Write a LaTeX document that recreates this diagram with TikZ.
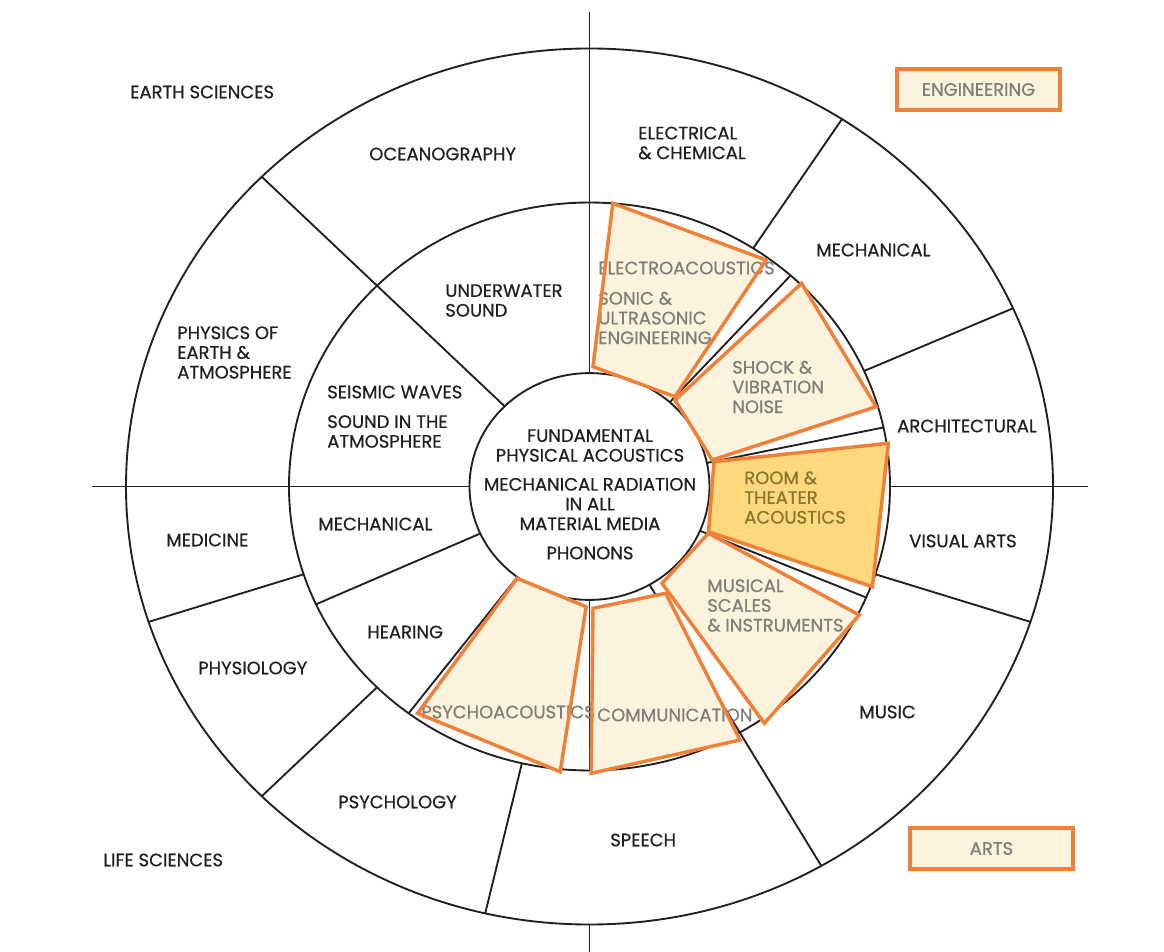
\documentclass[tikz,border=0pt]{standalone}
\usepackage{fontspec}
\setmainfont{Poppins}[FakeBold=0.6]
\usepackage{tikz}

\begin{document}
\begin{tikzpicture}[x=0.75pt,y=0.75pt,yscale=-1,xscale=1,
  ringline/.style={draw={rgb, 255:red, 35; green, 31; blue, 32 }, line width=1.4pt},
  hlfill/.style={fill={rgb, 255:red, 252; green, 243; blue, 222 }},
  hlgold/.style={fill={rgb, 255:red, 253; green, 216; blue, 125 }},
  hlline/.style={draw={rgb, 255:red, 240; green, 128; blue, 56 }, line width=2.6pt, line join=miter},
  lbl/.style={anchor=west, inner sep=0.75pt, align=left, font=\fontsize{13.5}{14.8}\selectfont, text={rgb, 255:red, 35; green, 31; blue, 32 }},
  glbl/.style={lbl, text={rgb, 255:red, 128; green, 126; blue, 118 }},
  olbl/.style={lbl, text={rgb, 255:red, 135; green, 118; blue, 45 }},
  clbl/.style={lbl, anchor=center, align=center},
  legbox/.style={hlfill, hlline, inner sep=0pt, minimum width=122pt, minimum height=30.5pt, font=\fontsize{13.5}{14.8}\selectfont, text={rgb, 255:red, 128; green, 126; blue, 118 }}]
\useasboundingbox (0,0) rectangle (1164,952);

%Shape: Rings and radial lines
\begin{scope}[shift={(589.5,486.5)}, yscale=-0.945]
\draw [ringline] (0,0) circle [radius=463.5];
\draw [ringline] (0,0) circle [radius=300.5];
%Straight Lines (axes)
\draw [ringline] (0,502) -- (90:120);
\draw [ringline] (270:120) -- (270:300.5);
\draw [ringline] (270:463.5) -- (0,-493);
\draw [ringline] (-497.5,0) -- (180:120);
\draw [ringline] (0:300.5) -- (498.5,0);
%Straight Lines (outer ring)
\draw [ringline] (135:120) -- (135:463.5);
\draw [ringline] (300:120) -- (300:463.5);
\draw [ringline] (198:300.5) -- (198:463.5);
\draw [ringline] (225:300.5) -- (225:463.5);
\draw [ringline] (257:300.5) -- (257:463.5);
\draw [ringline] (342:300.5) -- (342:463.5);
\draw [ringline] (24:300.5) -- (24:463.5);
\draw [ringline] (57:300.5) -- (57:463.5);
%Straight Lines (middle ring)
\draw [ringline] (204.5:120) -- (204.5:300.5);
\draw [ringline] (233:120) -- (233:300.5);
\draw [ringline] (337:120) -- (337:300.5);
\draw [ringline] (12:120) -- (12:300.5);
\draw [ringline] (48:120) -- (48:300.5);
%Shape: Circle (core)
\draw [ringline, fill=white] (0,0) circle [radius=120];
\end{scope}

%Shape: Highlighted fields
\coordinate (ea1) at (612.8,203.3); \coordinate (ea2) at (766.2,260);
\coordinate (ea3) at (675,396.7);   \coordinate (ea4) at (593,366.7);
\coordinate (sv1) at (801.6,283.3); \coordinate (sv2) at (876.1,406.7);
\coordinate (sv3) at (712.2,460);   \coordinate (sv4) at (675,400);
\coordinate (rt1) at (888.4,443.3); \coordinate (rt2) at (872.4,586.7);
\coordinate (rt3) at (708.5,531.7); \coordinate (rt4) at (714,461.7);
\coordinate (ms1) at (708.5,533.3); \coordinate (ms2) at (859.3,615);
\coordinate (ms3) at (764.4,723.3); \coordinate (ms4) at (662,583.3);
\coordinate (cm1) at (665.7,593.3); \coordinate (cm2) at (740.1,740);
\coordinate (cm3) at (591.2,773.3); \coordinate (cm4) at (593,608.3);
\coordinate (pa1) at (517.2,578.3); \coordinate (pa2) at (586.2,606.7);
\coordinate (pa3) at (560.2,771.7); \coordinate (pa4) at (417.6,713.3);

\fill [hlfill] (ea1) -- (ea2) -- (ea3) -- (ea4) -- cycle;
\fill [hlfill] (sv1) -- (sv2) -- (sv3) -- (sv4) -- cycle;
\fill [hlgold] (rt1) -- (rt2) -- (rt3) -- (rt4) -- cycle;
\fill [hlfill] (ms1) -- (ms2) -- (ms3) -- (ms4) -- cycle;
\fill [hlfill] (cm1) -- (cm2) -- (cm3) -- (cm4) -- cycle;
\fill [hlfill] (pa1) -- (pa2) -- (pa3) -- (pa4) -- cycle;

% Text Node
\node (earth) [lbl] at (129,92) {EARTH SCIENCES};
\node (ocean) [lbl] at (368,154) {OCEANOGRAPHY};
\node (elchem) [lbl] at (637,143) {ELECTRICAL\\\& CHEMICAL};
\node (mechout) [lbl] at (815,250) {MECHANICAL};
\node (under) [lbl] at (444,300.5) {UNDERWATER\\SOUND};
\node (electro) [glbl] at (597,268) {ELECTROACOUSTICS};
\node (sonic) [glbl] at (597,318) {SONIC \&\\ULTRASONIC\\ENGINEERING};
\node (physics) [lbl] at (176,352.5) {PHYSICS OF\\EARTH \&\\ATMOSPHERE};
\node (shock) [glbl] at (731,387) {SHOCK \&\\VIBRATION\\NOISE};
\node (seismic) [lbl] at (326,392) {SEISMIC WAVES};
\node (soundatm) [lbl] at (326,431.5) {SOUND IN THE\\ATMOSPHERE};
\node (arch) [lbl] at (896,426) {ARCHITECTURAL};
\node (fund) [clbl] at (590,445.5) {FUNDAMENTAL\\PHYSICAL ACOUSTICS};
\node (mechrad) [clbl] at (590,504) {MECHANICAL RADIATION\\IN ALL\\MATERIAL MEDIA};
\node (phonons) [clbl] at (590,553) {PHONONS};
\node (room) [olbl] at (743,497.5) {ROOM \&\\THEATER\\ACOUSTICS};
\node (visual) [lbl] at (908,541) {VISUAL ARTS};
\node (medicine) [lbl] at (165,540) {MEDICINE};
\node (mechmid) [lbl] at (317,524) {MECHANICAL};
\node (musical) [glbl] at (706,605.5) {MUSICAL\\SCALES\\\& INSTRUMENTS};
\node (hearing) [lbl] at (366,632) {HEARING};
\node (physio) [lbl] at (197,668) {PHYSIOLOGY};
\node (psychoac) [glbl] at (420,712) {PSYCHOACOUSTICS};
\node (comm) [glbl] at (596,715) {COMMUNICATION};
\node (music) [lbl] at (858,712) {MUSIC};
\node (psychol) [lbl] at (337,802) {PSYCHOLOGY};
\node (speech) [lbl] at (609,840) {SPEECH};
\node (life) [lbl] at (102,860) {LIFE SCIENCES};

%Shape: Legend boxes
\node (engbox) [legbox] at (978.5,89.5) {ENGINEERING\hspace{8pt}};
\node (artsbox) [legbox] at (991.5,848.5) {ARTS\hspace{16pt}};

%Shape: Outlines of highlighted fields
\draw [hlline] (ea1) -- (ea2) -- (ea3) -- (ea4) -- cycle;
\draw [hlline] (sv1) -- (sv2) -- (sv3) -- (sv4) -- cycle;
\draw [hlline] (rt1) -- (rt2) -- (rt3) -- (rt4) -- cycle;
\draw [hlline] (ms1) -- (ms2) -- (ms3) -- (ms4) -- cycle;
\draw [hlline] (cm1) -- (cm2) -- (cm3) -- (cm4) -- cycle;
\draw [hlline] (pa1) -- (pa2) -- (pa3) -- (pa4) -- cycle;

\end{tikzpicture}
\end{document}
